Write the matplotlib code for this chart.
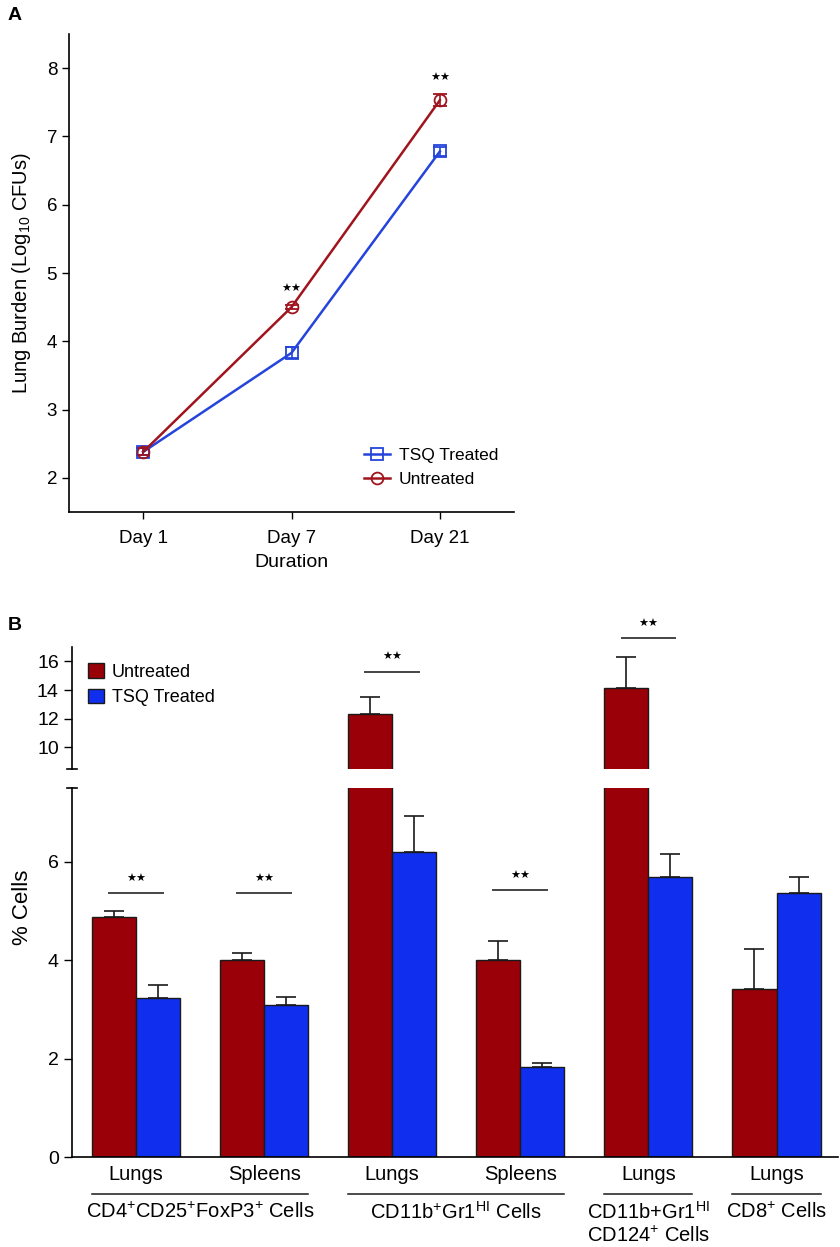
import matplotlib
matplotlib.use('Agg')
import matplotlib.pyplot as plt
from matplotlib.lines import Line2D
from matplotlib.patches import Patch

RED_LINE = '#a0141e'
BLUE_LINE = '#2444dc'
RED_BAR = '#990008'
BLUE_BAR = '#102eee'

plt.rcParams['font.family'] = ['Liberation Sans', 'DejaVu Sans']
plt.rcParams['mathtext.fontset'] = 'custom'
plt.rcParams['mathtext.rm'] = 'Liberation Sans'
plt.rcParams['mathtext.it'] = 'Liberation Sans:italic'
plt.rcParams['mathtext.bf'] = 'Liberation Sans:bold'
plt.rcParams['mathtext.default'] = 'regular'

# panel A: lung burden over time
days = ['Day 1', 'Day 7', 'Day 21']
tsq_cfu = [2.38, 3.83, 6.78]
tsq_cfu_err = [0.05, 0.08, 0.07]
untr_cfu = [2.38, 4.50, 7.53]
untr_cfu_err = [0.05, 0.03, 0.09]
cfu_sig_days = [1, 2]

# panel B: % cells
organs = ['Lungs', 'Spleens', 'Lungs', 'Spleens', 'Lungs', 'Lungs']
untr_pct = [4.88, 4.00, 12.30, 4.00, 14.17, 3.41]
untr_pct_err = [0.12, 0.15, 1.25, 0.40, 2.10, 0.82]
tsq_pct = [3.23, 3.09, 6.20, 1.83, 5.70, 5.37]
tsq_pct_err = [0.27, 0.17, 0.74, 0.09, 0.46, 0.32]
sig_groups = [0, 1, 2, 3, 4]
sig_level = [5.37, 5.37, 15.28, 5.43, 17.6]
cell_types = ['CD4$^{+}$CD25$^{+}$FoxP3$^{+}$ Cells',
              'CD11b$^{+}$Gr1$^{HI}$ Cells',
              'CD11b+Gr1$^{HI}$',
              'CD8$^{+}$ Cells']
cell_types_2nd = ['', '', 'CD124$^{+}$ Cells', '']
cell_spans = [(0, 1), (2, 3), (4, 4), (5, 5)]

W, H = 840, 1247
STARS = '\u2605\u2605'


def box(left, top, right, bottom):
    return [left / W, 1 - bottom / H, (right - left) / W, (bottom - top) / H]


fig = plt.figure(figsize=(W / 100, H / 100), dpi=100)

# ---------------- panel A ----------------
ax = fig.add_axes(box(69, 34, 514, 512))
x = list(range(len(days)))
ax.errorbar(x, tsq_cfu, yerr=tsq_cfu_err, color=BLUE_LINE, marker='s', ms=9,
            mfc='none', mew=1.3, lw=1.8, capsize=5, elinewidth=1.2)
ax.errorbar(x, untr_cfu, yerr=untr_cfu_err, color=RED_LINE, marker='o', ms=8.5,
            mfc='none', mew=1.3, lw=1.8, capsize=5, elinewidth=1.2)
for d in cfu_sig_days:
    ax.text(d, untr_cfu[d] + untr_cfu_err[d] + 0.23, STARS, ha='center', va='center',
            fontsize=8, family='DejaVu Sans')
ax.set_xlim(-0.5, 2.5)
ax.set_ylim(1.5, 8.5)
ax.set_xticks(x)
ax.set_xticklabels(days)
ax.set_yticks([2, 3, 4, 5, 6, 7, 8])
ax.tick_params(labelsize=13.5, length=5, width=1)
ax.tick_params(axis='x', pad=8)
ax.spines['top'].set_visible(False)
ax.spines['right'].set_visible(False)
for s in ('left', 'bottom'):
    ax.spines[s].set_linewidth(1.2)
ax.set_xlabel('Duration', fontsize=14)
ax.set_ylabel('Lung Burden (Log$_{10}$ CFUs)', fontsize=14.5)
ax.xaxis.set_label_coords(0.5, -0.088)
ax.yaxis.set_label_coords(-0.08, 0.5)
handles = [Line2D([], [], color=BLUE_LINE, marker='s', ms=9, mfc='none', mew=1.3, lw=1.8),
           Line2D([], [], color=RED_LINE, marker='o', ms=8.5, mfc='none', mew=1.3, lw=1.8)]
ax.legend(handles, ['TSQ Treated', 'Untreated'], loc='lower right',
          bbox_to_anchor=(1.0, 0.02), frameon=False, fontsize=12.5,
          handlelength=1.5, handletextpad=0.5, labelspacing=0.5)
fig.text(8 / W, 1 - 15 / H, 'A', fontsize=14, fontweight='bold', va='center', ha='left')

# ---------------- panel B ----------------
lo = fig.add_axes(box(72, 788, 838, 1157))
hi = fig.add_axes(box(72, 647, 838, 769))
bw = 0.344
gx = list(range(len(organs)))
for a in (lo, hi):
    a.bar([g - bw / 2 for g in gx], untr_pct, width=bw, color=RED_BAR,
          edgecolor='#1a1a1a', lw=1)
    a.bar([g + bw / 2 for g in gx], tsq_pct, width=bw, color=BLUE_BAR,
          edgecolor='#1a1a1a', lw=1)
    a.errorbar([g - bw / 2 for g in gx], untr_pct, yerr=[[0] * len(gx), untr_pct_err],
               fmt='none', ecolor='#1a1a1a', elinewidth=1.2, capsize=7, capthick=1.2)
    a.errorbar([g + bw / 2 for g in gx], tsq_pct, yerr=[[0] * len(gx), tsq_pct_err],
               fmt='none', ecolor='#1a1a1a', elinewidth=1.2, capsize=7, capthick=1.2)
    a.set_xlim(-0.5, 5.48)
    a.spines['top'].set_visible(False)
    a.spines['right'].set_visible(False)
    a.spines['left'].set_linewidth(1.2)
    a.tick_params(labelsize=14, length=6, width=1)

lo.set_ylim(0, 7.5)
lo.set_yticks([0, 2, 4, 6])
lo.spines['bottom'].set_linewidth(1.2)
lo.set_xticks(gx)
lo.set_xticklabels(organs, fontsize=14.5)
lo.tick_params(axis='x', length=0, pad=6)
hi.set_ylim(8.5, 17)
hi.set_yticks([10, 12, 14, 16])
hi.spines['bottom'].set_visible(False)
hi.set_xticks([])

# break marks on the y axis
lo.plot([-0.007, 0.007], [1, 1], transform=lo.transAxes, color='k', lw=1.2, clip_on=False)
hi.plot([-0.007, 0.007], [0, 0], transform=hi.transAxes, color='k', lw=1.2, clip_on=False)

# significance bars
for g, y in zip(sig_groups, sig_level):
    a = lo if y < 7.5 else hi
    a.plot([g - 0.21, g + 0.21], [y, y], color='#444444', lw=1.4, clip_on=False)
    dy = 0.28 if a is lo else 1.0
    a.text(g, y + dy, STARS, ha='center', va='center', fontsize=8,
           family='DejaVu Sans', clip_on=False)

# group labels under the categories
tr = lo.get_xaxis_transform()
for name, name2, (g0, g1) in zip(cell_types, cell_types_2nd, cell_spans):
    lo.plot([g0 - bw, g1 + bw], [-0.1, -0.1], transform=tr, color='#1a1a1a',
            lw=1.1, clip_on=False)
    lo.text((g0 + g1) / 2, -0.149, name, transform=tr, ha='center', va='center',
            fontsize=14.5)
    if name2:
        lo.text((g0 + g1) / 2, -0.214, name2, transform=tr, ha='center', va='center',
                fontsize=14.5)

hi.legend(handles=[Patch(facecolor=RED_BAR, edgecolor='#1a1a1a', label='Untreated'),
                   Patch(facecolor=BLUE_BAR, edgecolor='#1a1a1a', label='TSQ Treated')],
          loc='upper left', frameon=False, fontsize=13, handlelength=0.85,
          handleheight=0.85, handletextpad=0.45, labelspacing=0.45)

fig.text(22 / W, 1 - 907 / H, '% Cells', rotation=90, fontsize=16, ha='center', va='center')
fig.text(8 / W, 1 - 625 / H, 'B', fontsize=14, fontweight='bold', va='center', ha='left')

fig.savefig('out.png', dpi=100)
